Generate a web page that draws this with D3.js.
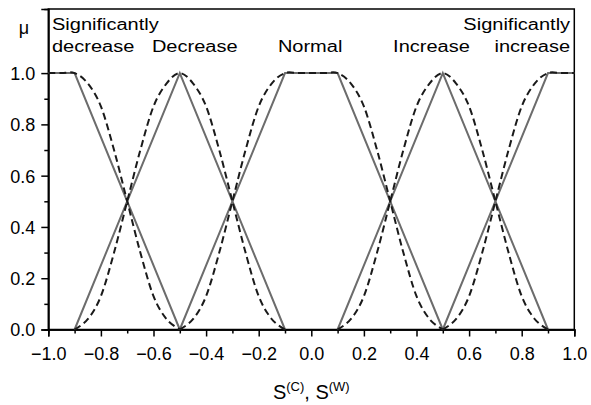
<!DOCTYPE html>
<html>
<head>
<meta charset="utf-8">
<script src="https://cdn.jsdelivr.net/npm/d3@7"></script>
<style>
  body { margin: 0; background: #fff; }
  text { font-family: "Liberation Sans", Arial, sans-serif; fill: #000; }
</style>
</head>
<body>
<div id="wrapper"></div>
<script>
// Category names (label lines)
var categories = ["Significantly decrease", "Decrease", "Normal", "Increase", "Significantly increase"]

// Solid (triangular / trapezoidal) membership functions: breakpoints
var solidSigDecX = [-1.0, -0.9, -0.5]
var solidSigDecY = [1, 1, 0]
var solidDecX = [-0.9, -0.5, -0.1]
var solidDecY = [0, 1, 0]
var solidNormX = [-0.5, -0.1, 0.1, 0.5]
var solidNormY = [0, 1, 1, 0]
var solidIncX = [0.1, 0.5, 0.9]
var solidIncY = [0, 1, 0]
var solidSigIncX = [0.5, 0.9, 1.0]
var solidSigIncY = [0, 1, 1]

// Dashed (smooth) membership functions, step 0.05
var dashSigDecX = [-1.0, -0.95, -0.9, -0.85, -0.8, -0.75, -0.7, -0.65, -0.6, -0.55, -0.5]
var dashSigDecY = [1, 1, 1, 0.96, 0.87, 0.7, 0.5, 0.3, 0.13, 0.04, 0]
var dashDecX = [-0.9, -0.85, -0.8, -0.75, -0.7, -0.65, -0.6, -0.55, -0.5, -0.45, -0.4, -0.35, -0.3, -0.25, -0.2, -0.15, -0.1]
var dashDecY = [0, 0.04, 0.13, 0.3, 0.5, 0.7, 0.87, 0.96, 1, 0.96, 0.87, 0.7, 0.5, 0.3, 0.13, 0.04, 0]
var dashNormX = [-0.5, -0.45, -0.4, -0.35, -0.3, -0.25, -0.2, -0.15, -0.1, -0.05, 0.0, 0.05, 0.1, 0.15, 0.2, 0.25, 0.3, 0.35, 0.4, 0.45, 0.5]
var dashNormY = [0, 0.04, 0.13, 0.3, 0.5, 0.7, 0.87, 0.96, 1, 1, 1, 1, 1, 0.96, 0.87, 0.7, 0.5, 0.3, 0.13, 0.04, 0]
var dashIncX = [0.1, 0.15, 0.2, 0.25, 0.3, 0.35, 0.4, 0.45, 0.5, 0.55, 0.6, 0.65, 0.7, 0.75, 0.8, 0.85, 0.9]
var dashIncY = [0, 0.04, 0.13, 0.3, 0.5, 0.7, 0.87, 0.96, 1, 0.96, 0.87, 0.7, 0.5, 0.3, 0.13, 0.04, 0]
var dashSigIncX = [0.5, 0.55, 0.6, 0.65, 0.7, 0.75, 0.8, 0.85, 0.9, 0.95, 1.0]
var dashSigIncY = [0, 0.04, 0.13, 0.3, 0.5, 0.7, 0.87, 0.96, 1, 1, 1]

// Tick values
var xMajorTicks = [-1.0, -0.8, -0.6, -0.4, -0.2, 0.0, 0.2, 0.4, 0.6, 0.8, 1.0]
var xMinorTicks = [-0.9, -0.7, -0.5, -0.3, -0.1, 0.1, 0.3, 0.5, 0.7, 0.9]
var yMajorTicks = [0.0, 0.2, 0.4, 0.6, 0.8, 1.0]
var yMinorTicks = [0.1, 0.3, 0.5, 0.7, 0.9]

var solidSeries = [
  [solidSigDecX, solidSigDecY], [solidDecX, solidDecY], [solidNormX, solidNormY],
  [solidIncX, solidIncY], [solidSigIncX, solidSigIncY]
]
var dashSeries = [
  [dashSigDecX, dashSigDecY], [dashDecX, dashDecY], [dashNormX, dashNormY],
  [dashIncX, dashIncY], [dashSigIncX, dashSigIncY]
]

// Dimensions
var W = 591, H = 405
var plot = { left: 48.3, right: 574.3, top: 9, bottom: 329.5 }

var svg = d3.select("#wrapper")
  .append("svg")
  .attr("width", W)
  .attr("height", H)

var x = d3.scaleLinear().domain([-1, 1]).range([plot.left, plot.right])
var y = d3.scaleLinear().domain([0, 1.25]).range([plot.bottom, plot.top])

var fmt = d3.format(".1f")

// Frame (top + right plain)
svg.append("rect")
  .attr("x", plot.left)
  .attr("y", plot.top)
  .attr("width", plot.right - plot.left)
  .attr("height", plot.bottom - plot.top)
  .attr("fill", "none")
  .attr("stroke", "#000")
  .attr("stroke-width", 1.5)

// X axis: major + minor ticks outward
var xAxis = svg.append("g")
  .attr("transform", "translate(0," + plot.bottom + ")")
  .call(d3.axisBottom(x).tickValues(xMajorTicks).tickSize(7).tickPadding(6).tickFormat(fmt))
svg.append("g")
  .attr("transform", "translate(0," + plot.bottom + ")")
  .call(d3.axisBottom(x).tickValues(xMinorTicks).tickSize(4).tickFormat(""))

var yAxis = svg.append("g")
  .attr("transform", "translate(" + plot.left + ",0)")
  .call(d3.axisLeft(y).tickValues(yMajorTicks).tickSize(7).tickPadding(6).tickFormat(fmt))
svg.append("g")
  .attr("transform", "translate(" + plot.left + ",0)")
  .call(d3.axisLeft(y).tickValues(yMinorTicks).tickSize(4).tickFormat(""))

svg.selectAll(".domain").attr("stroke-width", 1.5)
svg.selectAll(".tick line").attr("stroke-width", 1.5)
svg.selectAll(".tick text")
  .style("font-family", "'Liberation Sans', Arial, sans-serif")
  .style("font-size", "18px")
  .attr("fill", "#000")
xAxis.selectAll(".tick text").attr("dy", "0.95em")
yAxis.selectAll(".tick text").attr("dy", "0.36em")

// Lines
var line = d3.line()
  .x(d => x(d[0]))
  .y(d => y(d[1]))

function toPoints(s) { return s[0].map((v, i) => [v, s[1][i]]) }

svg.append("g")
  .selectAll("path")
  .data(solidSeries)
  .enter()
  .append("path")
  .attr("d", s => line(toPoints(s)))
  .attr("fill", "none")
  .attr("stroke", "#6c6c6c")
  .attr("stroke-width", 2)

var smooth = d3.line()
  .x(d => x(d[0]))
  .y(d => y(d[1]))
  .curve(d3.curveCardinal.tension(0))

svg.append("g")
  .selectAll("path")
  .data(dashSeries)
  .enter()
  .append("path")
  .attr("d", s => smooth(toPoints(s)))
  .attr("fill", "none")
  .attr("stroke", "#1a1a1a")
  .attr("stroke-width", 2)
  .attr("stroke-dasharray", "7,4")

// Category labels (horizontally stretched like the original)
var labelSpec = [
  { lines: ["Significantly", "decrease"], at: -0.986, anchor: "start" },
  { lines: ["Decrease"], at: -0.606, anchor: "start" },
  { lines: ["Normal"], at: -0.127, anchor: "start" },
  { lines: ["Increase"], at: 0.311, anchor: "start" },
  { lines: ["Significantly", "increase"], at: 0.984, anchor: "end" }
]
labelSpec.forEach(function (spec, i) {
  spec.lines.forEach(function (txt, j) {
    var base = spec.lines.length === 2 && j === 0 ? 30 : 52
    svg.append("text")
      .attr("transform", "translate(" + x(spec.at) + "," + base + ") scale(1.25,1)")
      .attr("text-anchor", spec.anchor)
      .style("font-size", "16px")
      .text(txt)
  })
})

// Axis titles
svg.append("text")
  .attr("x", 24)
  .attr("y", 34)
  .attr("text-anchor", "middle")
  .style("font-size", "18px")
  .text("μ")

var xt = svg.append("text")
  .attr("x", (plot.left + plot.right) / 2)
  .attr("y", 399)
  .attr("text-anchor", "middle")
  .style("font-size", "20px")
xt.append("tspan").text("S")
xt.append("tspan").attr("dy", -8).style("font-size", "13px").text("(C)")
xt.append("tspan").attr("dy", 8).text(", S")
xt.append("tspan").attr("dy", -8).style("font-size", "13px").text("(W)")
</script>
</body>
</html>
